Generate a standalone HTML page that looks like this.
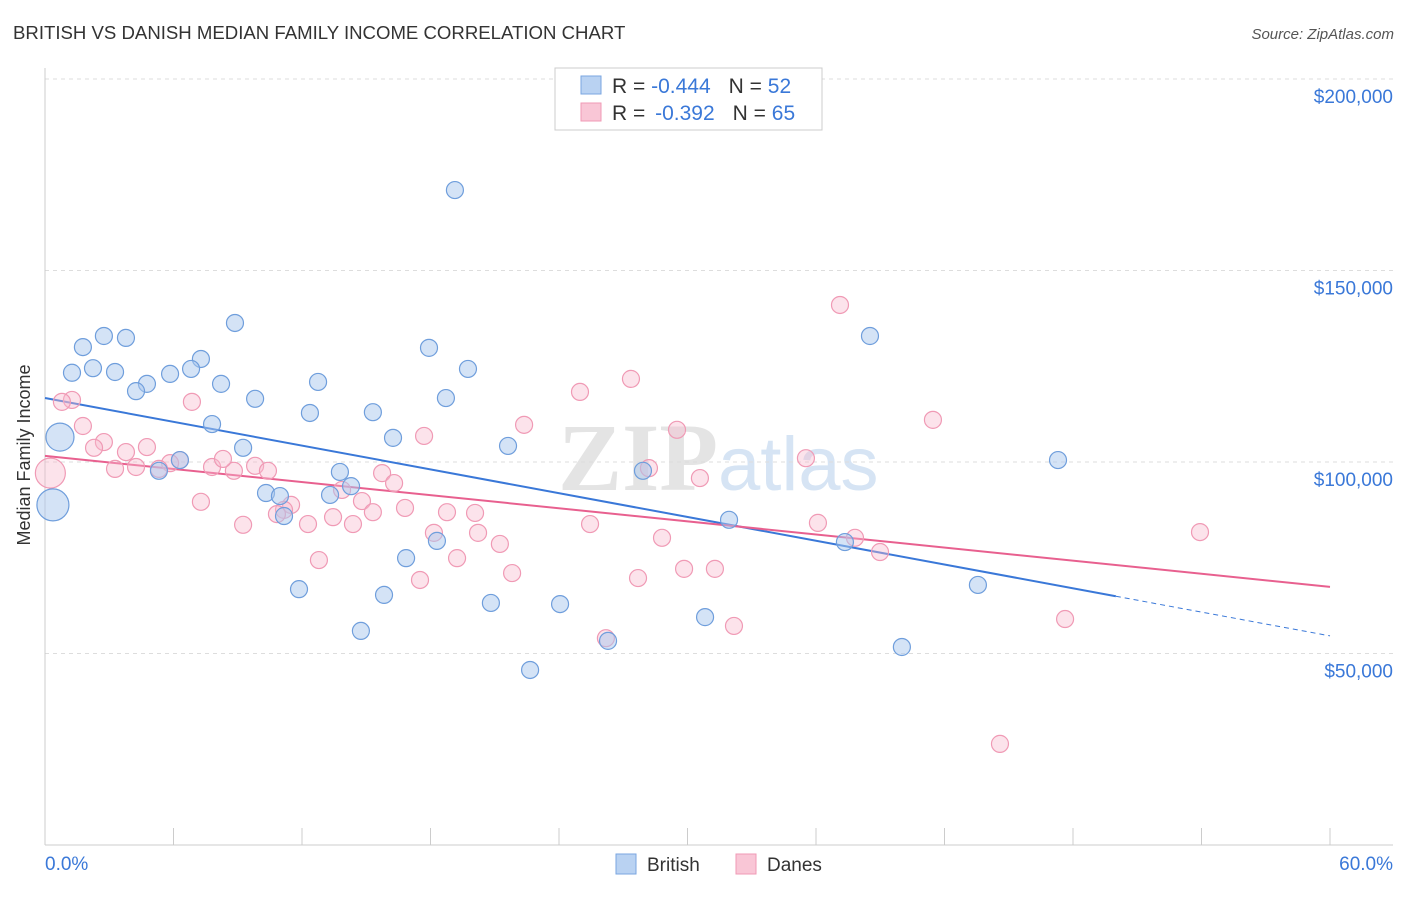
<!DOCTYPE html>
<html><head><meta charset="utf-8"><style>
body{margin:0;background:#fff;width:1406px;height:892px;overflow:hidden;font-family:"Liberation Sans",sans-serif}
</style></head><body>
<svg id="chart" width="1406" height="892" xmlns="http://www.w3.org/2000/svg">
<text x="13" y="39" font-size="18.6" fill="#333">BRITISH VS DANISH MEDIAN FAMILY INCOME CORRELATION CHART</text>
<text x="1394" y="39" font-size="15" fill="#555" font-style="italic" text-anchor="end">Source: ZipAtlas.com</text>
<text x="718" y="490" font-size="96" font-weight="bold" fill="#e4e4e4" text-anchor="end" font-family="Liberation Serif,serif">ZIP</text>
<text x="718" y="490" font-size="76" fill="#d6e4f4">atlas</text>
<g id="grid"></g><g id="axes"></g><g id="lines"></g><g id="pts"></g>
<text x="30" y="455" font-size="18" fill="#333" text-anchor="middle" transform="rotate(-90 30 455)">Median Family Income</text>
<g>
<rect x="555" y="68" width="267" height="62" fill="#fff" stroke="#ccc"/>
<rect x="581" y="76" width="20" height="18" fill="#b9d2f2" stroke="#7aa6e0"/>
<rect x="581" y="103" width="20" height="18" fill="#f9c6d6" stroke="#f09ab5"/>
<text x="612" y="93" font-size="21" fill="#333">R = <tspan fill="#3a78d8">-0.444</tspan><tspan dx="18">N = </tspan><tspan fill="#3a78d8">52</tspan></text>
<text x="612" y="120" font-size="21" fill="#333">R = <tspan fill="#3a78d8" dx="4">-0.392</tspan><tspan dx="18">N = </tspan><tspan fill="#3a78d8">65</tspan></text>
</g>
<g>
<rect x="616" y="854" width="20" height="20" fill="#b9d2f2" stroke="#7aa6e0"/>
<text x="647" y="871" font-size="19" fill="#333">British</text>
<rect x="736" y="854" width="20" height="20" fill="#f9c6d6" stroke="#f09ab5"/>
<text x="767" y="871" font-size="19" fill="#333">Danes</text>
</g>
</svg>
<script>
const bx=[19.14,8.87,2.75,3.78,1.77,17.93,38.52,7.28,1.26,2.24,3.27,5.84,6.82,19.75,4.76,4.25,8.22,12.75,9.81,18.72,12.37,15.31,7.80,0.70,16.25,21.62,9.25,47.30,6.30,5.32,13.77,27.92,14.29,10.32,10.97,13.31,11.16,0.37,31.94,18.30,37.35,16.86,43.56,11.86,15.83,20.82,24.05,14.75,30.82,26.29,40.01,22.65];
const by=[171000,136300,132900,132400,130000,129800,132900,126900,123300,124500,123500,123000,124300,124300,120400,118500,120400,120900,116500,116700,112800,113000,109900,106500,106300,104200,103700,100500,100500,97700,97400,97700,93700,91900,91100,91400,85900,88800,84900,79400,79100,74900,67900,66800,65300,63200,62900,55900,59500,53300,51700,45700];
const dx=[37.12,27.36,24.98,41.46,1.26,0.79,6.86,1.77,22.37,29.51,17.70,2.75,4.76,2.29,3.78,35.53,6.30,5.84,7.80,9.81,28.20,3.27,4.25,5.32,8.82,10.41,15.74,30.58,8.31,0.25,16.30,13.87,7.28,14.80,11.49,11.16,16.81,18.77,20.08,15.31,10.83,13.45,12.28,14.38,9.25,25.45,36.09,18.16,20.22,37.82,28.81,21.24,38.99,12.79,19.24,21.81,29.84,31.28,27.69,17.51,53.93,47.63,32.17,26.19,44.59];
const dy=[141000,121700,118300,111000,116200,115700,115700,109400,109700,108400,106800,105200,103900,103700,102600,101000,100500,99700,98700,99000,98400,98200,98700,98200,97700,97700,97100,95800,100800,97100,94500,92700,89600,89800,88800,87500,88000,86900,86700,86900,86400,85600,83800,83800,83600,83800,84100,81500,81500,80200,80200,78600,76500,74400,74900,71000,72100,72100,69700,69200,81700,59000,57200,54000,26400];
const yTicks=[50000,100000,150000,200000];
const yLabels=["$50,000","$100,000","$150,000","$200,000"];
const xTicks=[0,6,12,18,24,30,36,42,48,54,60];
const britTrend=[116700,54600]; const britSolidEnd=50;
const daneTrend=[101600,67400];
const NS="http://www.w3.org/2000/svg";
const X=v=>45+v*(1285/60), Y=v=>845-v*(191.5/50000);
function mk(p,t,a){const e=document.createElementNS(NS,t);for(const k in a)e.setAttribute(k,a[k]);document.getElementById(p).appendChild(e);return e;}
yTicks.forEach((t,i)=>{
 const g=mk('grid','line',{x1:45,x2:1393,y1:Y(t),y2:Y(t),stroke:'#ddd','stroke-dasharray':'4,4'});
 
 
 const l=mk('grid','text',{x:1393,y:Y(t)+24,'font-size':19,fill:'#3a78d8','text-anchor':'end'});l.textContent=yLabels[i];
 
 
});
mk('axes','line',{x1:45,x2:45,y1:68,y2:845,stroke:'#ccc'});
mk('axes','line',{x1:45,x2:1393,y1:845,y2:845,stroke:'#ccc'});
xTicks.forEach(t=>{const e=mk('axes','line',{x1:X(t),x2:X(t),y1:828,y2:845,stroke:'#ccc'});
 
 });
let a=mk('axes','text',{x:45,y:870,'font-size':19,fill:'#3a78d8'});a.textContent='0.0%';


a=mk('axes','text',{x:1393,y:870,'font-size':19,fill:'#3a78d8','text-anchor':'end'});a.textContent='60.0%';


const bAt=x=>britTrend[0]+(britTrend[1]-britTrend[0])*x/60;
const dAt=x=>daneTrend[0]+(daneTrend[1]-daneTrend[0])*x/60;
let ln=mk('lines','line',{x1:X(0),y1:Y(bAt(0)),x2:X(britSolidEnd),y2:Y(bAt(britSolidEnd)),stroke:'#3a78d8','stroke-width':2});


ln=mk('lines','line',{x1:X(britSolidEnd),y1:Y(bAt(britSolidEnd)),x2:X(60),y2:Y(bAt(60)),stroke:'#3a78d8','stroke-width':1,'stroke-dasharray':'5,4'});


ln=mk('lines','line',{x1:X(0),y1:Y(dAt(0)),x2:X(60),y2:Y(dAt(60)),stroke:'#e8608f','stroke-width':2});


dx.forEach((x,i)=>{const r=(i===29)?15:8.5;
 const c=mk('pts','circle',{cx:X(x),cy:Y(dy[i]),r:r,fill:'#f7b8cc','fill-opacity':0.4,stroke:'#f09ab5','stroke-width':1.2});
 
 });
bx.forEach((x,i)=>{const r=(i===23)?14:(i===37?16:8.5);
 const c=mk('pts','circle',{cx:X(x),cy:Y(by[i]),r:r,fill:'#a9c7ee','fill-opacity':0.5,stroke:'#6f9edc','stroke-width':1.2});
 
 });
</script>
</body></html>
